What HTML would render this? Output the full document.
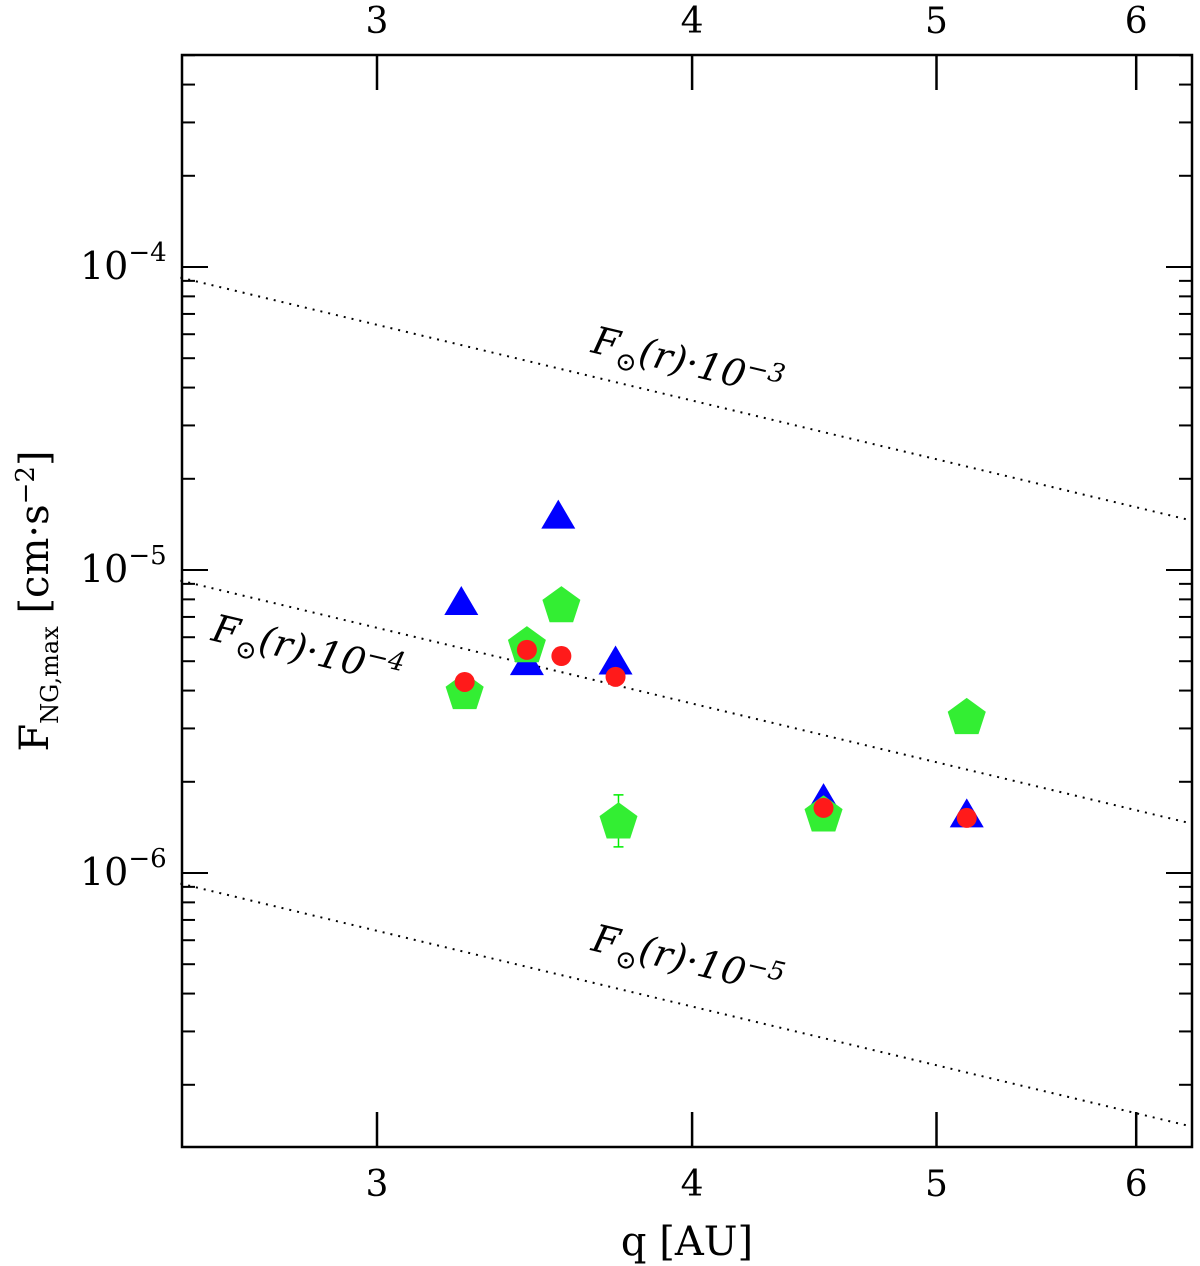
<!DOCTYPE html>
<html><head><meta charset="utf-8">
<style>
html,body{margin:0;padding:0;background:#fff;}
svg{display:block;font-family:"DejaVu Serif","Liberation Serif",serif;}
</style></head>
<body>
<svg id="chart" width="1200" height="1266" viewBox="0 0 1200 1266" xmlns="http://www.w3.org/2000/svg">
<g id="axes"></g>
<g id="lines"></g>
<g id="marks"></g>
<text x="687" y="1255" font-size="40" text-anchor="middle">q [AU]</text>
<text transform="translate(48,601) rotate(-90)" font-size="40" text-anchor="middle">F<tspan font-size="24" dy="10">NG,max</tspan><tspan dy="-10"> [cm·s</tspan><tspan font-size="26" dy="-14">−2</tspan><tspan dy="14">]</tspan></text>
</svg>
<script>
const xTicks = [3, 4, 5, 6];
const yDecades = [-7, -6, -5, -4, -3];
const lineFactors = [1e-3, 1e-4, 1e-5];
const lineLabels = ["10-3", "10-4", "10-5"];
const triQ = [3.24, 3.54, 3.44, 3.73, 4.51, 5.14];
const triF = [7.78e-6, 1.50e-5, 4.93e-6, 4.95e-6, 1.74e-6, 1.55e-6];
const pentQ = [3.25, 3.44, 3.55, 3.74, 4.51, 5.14];
const pentF = [3.93e-6, 5.61e-6, 7.60e-6, 1.47e-6, 1.55e-6, 3.25e-6];
const pentErrLo = [0, 0, 0, 1.22e-6, 0, 0];
const pentErrHi = [0, 0, 0, 1.81e-6, 0, 0];
const circQ = [3.25, 3.44, 3.55, 3.73, 4.51, 5.14];
const circF = [4.27e-6, 5.45e-6, 5.20e-6, 4.44e-6, 1.64e-6, 1.52e-6];
const solarC = 0.58;

const L=182,R=1192,T=55,B=1147;
function X(q){return 377+2522*Math.log10(q/3);}
function Y(f){return 267-303*(Math.log10(f)+4);}
const NS="http://www.w3.org/2000/svg";
function mk(tag,attrs,parent){const e=document.createElementNS(NS,tag);for(const k in attrs)e.setAttribute(k,attrs[k]);parent.appendChild(e);return e;}
const axes=document.getElementById('axes');
const frame=mk('rect',{x:L,y:T,width:R-L,height:B-T,fill:'none',stroke:'#000','stroke-width':2.5},axes);


xTicks.forEach(v=>{
  const x=X(v);
  const t1=mk('line',{x1:x,x2:x,y1:B,y2:B-35,stroke:'#000','stroke-width':2.5},axes);
  
  
  const t2=mk('line',{x1:x,x2:x,y1:T,y2:T+35,stroke:'#000','stroke-width':2.5},axes);
  
  
  const lb=mk('text',{x:x,y:1196,'font-size':36,'text-anchor':'middle'},axes);lb.textContent=v;
  
  
  const lt=mk('text',{x:x,y:33,'font-size':36,'text-anchor':'middle'},axes);lt.textContent=v;
  
  
});
yDecades.forEach(d=>{
  for(let m=1;m<10;m++){
    const y=Y(m*Math.pow(10,d));
    if(y<T||y>B)continue;
    const len=m===1?26:13;
    const a=mk('line',{x1:L,x2:L+len,y1:y,y2:y,stroke:'#000','stroke-width':2},axes);
    
    
    const b=mk('line',{x1:R,x2:R-len,y1:y,y2:y,stroke:'#000','stroke-width':2},axes);
    
    
    if(m===1){
      const lb=mk('text',{x:80,y:y+12,'font-size':38},axes);
      lb.innerHTML='10<tspan font-size="26" dy="-18">−'+(-d)+'</tspan>';
      
      
    }
  }
});
const lines=document.getElementById('lines');
const labPos=[[590,352],[210,640],[590,950]];
lineFactors.forEach((k,i)=>{
  const q0=2.507,q1=6.31;
  const ln=mk('line',{x1:X(q0),y1:Y(solarC*k/(q0*q0)),x2:X(q1),y2:Y(solarC*k/(q1*q1)),stroke:'#000','stroke-width':2,'stroke-dasharray':'2 6'},lines);
  
  
  const [lx,ly]=labPos[i];
  const t=mk('text',{transform:`translate(${lx},${ly}) rotate(13.4)`,'font-size':38,'font-style':'italic'},lines);
  t.innerHTML='F<tspan font-style="normal" font-size="26" dy="10">⊙</tspan><tspan dy="-10">(r)·10</tspan><tspan font-size="26" dy="-14">−'+lineLabels[i].slice(3)+'</tspan>';
  
  
});
const marks=document.getElementById('marks');
triQ.forEach((q,i)=>{
  const x=X(q),y=Y(triF[i]);
  const p=mk('polygon',{points:`${x},${y-17} ${x-17},${y+12} ${x+17},${y+12}`,fill:'#0000ff'},marks);
  
  
});
pentQ.forEach((q,i)=>{
  const x=X(q),y=Y(pentF[i]);
  if(pentErrLo[i]>0){
    const e=mk('path',{d:`M${x},${Y(pentErrLo[i])}V${Y(pentErrHi[i])}M${x-5},${Y(pentErrLo[i])}h10M${x-5},${Y(pentErrHi[i])}h10`,stroke:'#00ee00','stroke-width':1.5,fill:'none'},marks);
    
    
  }
  let pts=[];for(let k=0;k<5;k++){const a=-Math.PI/2+k*2*Math.PI/5;pts.push((x+20*Math.cos(a)).toFixed(1)+','+(y+20*Math.sin(a)).toFixed(1));}
  const p=mk('polygon',{points:pts.join(' '),fill:'#33ee33'},marks);
  
  
});
circQ.forEach((q,i)=>{
  const c=mk('circle',{cx:X(q),cy:Y(circF[i]),r:10,fill:'#ff1a1a'},marks);
  
  
});
</script>
</body></html>
